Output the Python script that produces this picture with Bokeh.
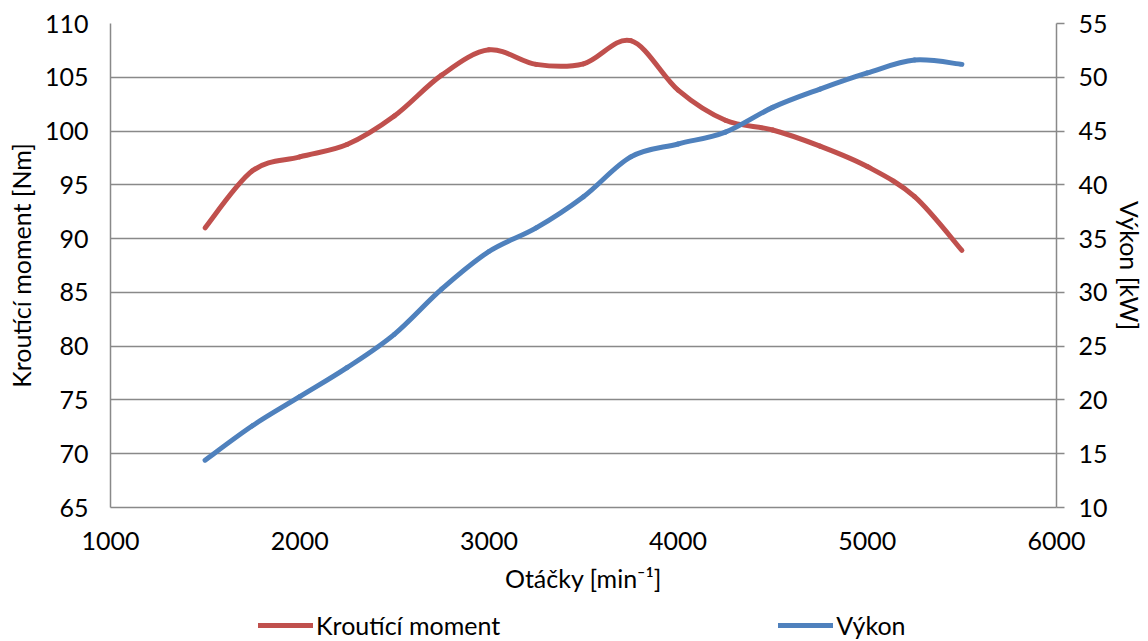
from bokeh.plotting import figure
from bokeh.layouts import column
from bokeh.models import Range1d, LinearAxis, FixedTicker, Legend, LegendItem, ColumnDataSource
from bokeh.embed import file_html
from bokeh.resources import INLINE

# ---- data ----
rpm = [1500, 1750, 2000, 2250, 2500, 2750, 3000, 3250, 3500,
       3750, 4000, 4250, 4500, 4750, 5000, 5250, 5500]
torque = [91.0, 96.3, 97.6, 98.75, 101.4, 105.2, 107.55, 106.2, 106.25,
          108.4, 103.8, 101.0, 100.1, 98.6, 96.7, 93.9, 88.9]
power = [14.4, 17.6, 20.3, 23.0, 26.1, 30.3, 33.8, 36.0, 38.9,
         42.6, 43.8, 44.9, 47.2, 48.9, 50.4, 51.6, 51.2]
x_ticks = [1000, 2000, 3000, 4000, 5000, 6000]
torque_ticks = [65, 70, 75, 80, 85, 90, 95, 100, 105, 110]
power_ticks = [10, 15, 20, 25, 30, 35, 40, 45, 50, 55]
series_names = ["Kroutící moment", "Výkon"]

FONT = "Lato"
FS = "25px"
GRID = "#898989"
RED = "#C0504D"
BLUE = "#4F81BD"


def smooth_source(xs, ys):
    """Bezier control points of a smoothed (Catmull-Rom style) line through the data points."""
    n = len(xs)
    d = dict(x0=[], y0=[], x1=[], y1=[], cx0=[], cy0=[], cx1=[], cy1=[])
    for i in range(n - 1):
        a = i - 1 if i > 0 else i
        b = i + 2 if i + 2 < n else i + 1
        d["x0"].append(xs[i]); d["y0"].append(ys[i])
        d["x1"].append(xs[i + 1]); d["y1"].append(ys[i + 1])
        d["cx0"].append(xs[i] + (xs[i + 1] - xs[a]) / 6.0)
        d["cy0"].append(ys[i] + (ys[i + 1] - ys[a]) / 6.0)
        d["cx1"].append(xs[i + 1] - (xs[b] - xs[i]) / 6.0)
        d["cy1"].append(ys[i + 1] - (ys[b] - ys[i]) / 6.0)
    return ColumnDataSource(d)


p = figure(width=1148, height=600, x_range=Range1d(1000, 6000), y_range=Range1d(65, 110),
           output_backend="svg", toolbar_location=None,
           min_border_left=110, min_border_right=92, min_border_top=23, min_border_bottom=93)
p.outline_line_color = None
p.background_fill_color = "white"
p.border_fill_color = "white"

p.extra_y_ranges = {"power": Range1d(10, 55)}

# grid
p.xgrid.grid_line_color = None
p.ygrid.grid_line_color = GRID
p.ygrid.grid_line_width = 1.5
p.ygrid.ticker = FixedTicker(ticks=torque_ticks)

# x axis
xa = p.xaxis[0]
xa.ticker = FixedTicker(ticks=x_ticks)
xa.axis_label = "Otáčky [min\u207b\u00b9]"

# left axis
ya = p.yaxis[0]
ya.ticker = FixedTicker(ticks=torque_ticks)
ya.axis_label = "Kroutící moment [Nm]"

# right axis
ra = LinearAxis(y_range_name="power", ticker=FixedTicker(ticks=power_ticks), axis_label="Výkon [kW]")
p.add_layout(ra, "right")

for ax in (xa, ya, ra):
    ax.axis_line_color = GRID
    ax.axis_line_width = 1.5
    ax.major_tick_line_color = GRID
    ax.major_tick_line_width = 1.5
    ax.major_tick_in = 0
    ax.major_tick_out = 0
    ax.minor_tick_line_color = None
    ax.major_label_text_font = FONT
    ax.major_label_text_font_size = FS
    ax.major_label_text_color = "black"
    ax.axis_label_text_font = FONT
    ax.axis_label_text_font_size = FS
    ax.axis_label_text_font_style = "normal"
    ax.axis_label_text_color = "black"

ra.major_tick_out = 8
xa.major_label_standoff = 24
ya.major_label_standoff = 22
ra.major_label_standoff = 14
xa.axis_label_standoff = 10
ya.axis_label_standoff = 6
ra.axis_label_standoff = 4

# curves
p.bezier(x0="x0", y0="y0", x1="x1", y1="y1", cx0="cx0", cy0="cy0", cx1="cx1", cy1="cy1",
         source=smooth_source(rpm, torque), line_color=RED, line_width=5, line_cap="round")
p.bezier(x0="x0", y0="y0", x1="x1", y1="y1", cx0="cx0", cy0="cy0", cx1="cx1", cy1="cy1",
         source=smooth_source(rpm, power), line_color=BLUE, line_width=5, line_cap="round",
         y_range_name="power")

# legend strip below the chart (its renderers lie outside its ranges, so only the key shows)
lp = figure(width=1148, height=41, output_backend="svg", toolbar_location=None,
            x_range=Range1d(0, 1), y_range=Range1d(0, 1),
            x_axis_location=None, y_axis_location=None,
            min_border_left=0, min_border_right=0, min_border_top=0, min_border_bottom=0)
lp.outline_line_color = None
lp.grid.visible = False
l_t = lp.line(x=[5, 6], y=[5, 6], line_color=RED, line_width=5, line_cap="round")
l_p = lp.line(x=[5, 6], y=[5, 6], line_color=BLUE, line_width=5, line_cap="round")
legend = Legend(items=[LegendItem(label=series_names[0], renderers=[l_t]),
                       LegendItem(label=series_names[1], renderers=[l_p])],
                orientation="horizontal", location=(148, 1),
                spacing=278, glyph_width=55, glyph_height=26, label_height=26, label_standoff=3,
                label_text_font=FONT, label_text_font_size=FS, label_text_color="black",
                border_line_color=None, background_fill_alpha=0, padding=0, margin=0)
lp.add_layout(legend, "center")

layout = column(p, lp, spacing=0)
open("out.html", "w").write(file_html(layout, INLINE))
